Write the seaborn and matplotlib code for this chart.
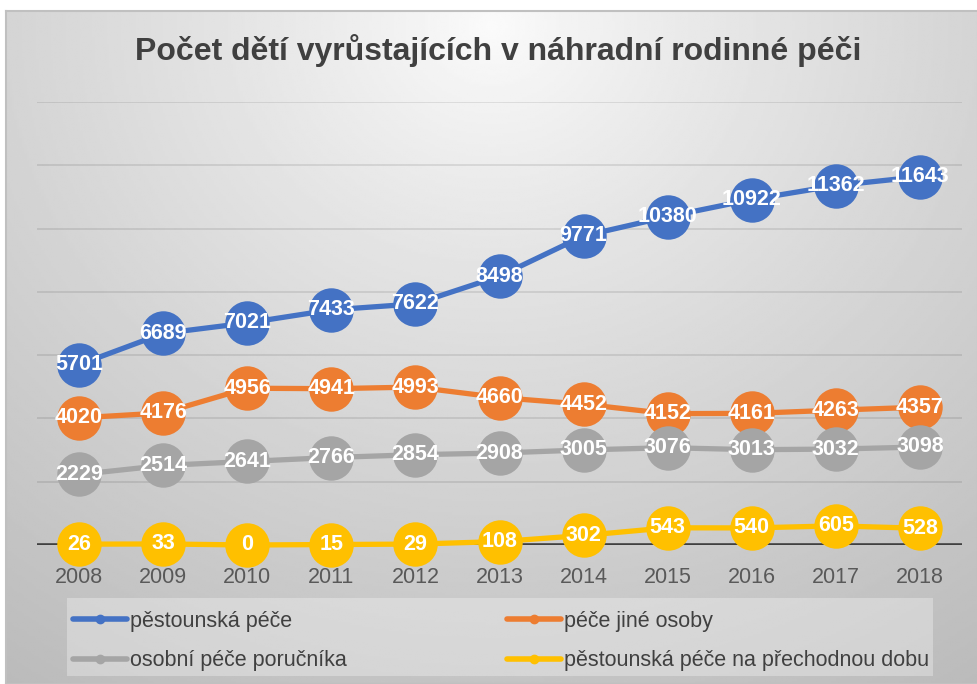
import numpy as np
import pandas as pd
import matplotlib.pyplot as plt
from matplotlib.lines import Line2D
from matplotlib.patches import Rectangle
import seaborn as sns

years = [2008, 2009, 2010, 2011, 2012, 2013, 2014, 2015, 2016, 2017, 2018]
pestounska = [5701, 6689, 7021, 7433, 7622, 8498, 9771, 10380, 10922, 11362, 11643]
jine_osoby = [4020, 4176, 4956, 4941, 4993, 4660, 4452, 4152, 4161, 4263, 4357]
porucnik = [2229, 2514, 2641, 2766, 2854, 2908, 3005, 3076, 3013, 3032, 3098]
prechodna = [26, 33, 0, 15, 29, 108, 302, 543, 540, 605, 528]

series_names = ["pěstounská péče", "péče jiné osoby",
                "osobní péče poručníka", "pěstounská péče na přechodnou dobu"]
colors = ["#4472C4", "#ED7D31", "#A5A5A5", "#FFC000"]

df = pd.DataFrame({
    "rok": years * 4,
    "pocet": pestounska + jine_osoby + porucnik + prechodna,
    "serie": sum([[n] * len(years) for n in series_names], []),
})

sns.set_theme(style="white")
plt.rcParams["font.family"] = ["Liberation Sans", "DejaVu Sans"]

W, H = 978, 684
fig = plt.figure(figsize=(W / 100, H / 100), dpi=100, facecolor="white")

# gradient background (light at top centre, darker towards corners)
bg = fig.add_axes([6 / W, 0, 972 / W, 673 / H], zorder=-10)
gx, gy = np.meshgrid(np.linspace(0, 1, 400), np.linspace(0, 1, 300))
d = np.sqrt(((gx - 0.5) * 1.3) ** 2 + (gy - 0.02) ** 2)
shade = np.clip(0.985 - 0.22 * d ** 0.85, 0, 1)
bg.imshow(shade, cmap="gray", vmin=0, vmax=1, aspect="auto", extent=[0, 1, 1, 0])
bg.set_xticks([])
bg.set_yticks([])
for s in bg.spines.values():
    s.set_color("#c0c0c0")
    s.set_linewidth(1.5)

ax = fig.add_axes([37 / W, 1 - 545 / H, 925 / W, (545 - 101.5) / H])
ax.patch.set_alpha(0)

for i, name in enumerate(series_names):
    sub = df[df["serie"] == name]
    sns.lineplot(data=sub, x="rok", y="pocet", ax=ax, color=colors[i],
                 linewidth=3.8, marker="o", markersize=32, markeredgewidth=0,
                 legend=False, zorder=3 + i, clip_on=False)

for i, name in enumerate(series_names):
    sub = df[df["serie"] == name]
    for x, y in zip(sub["rok"], sub["pocet"]):
        ax.text(x, y, str(y), ha="center", va="center", color="white",
                fontsize=15.5, fontweight="bold", zorder=10)

ax.set_xlim(2007.5, 2018.5)
ax.set_ylim(0, 14020)
ax.set_yticks(np.arange(0, 14001, 2000))
ax.yaxis.grid(True, color="black", alpha=0.11, linewidth=1.2)
ax.set_yticklabels([])
ax.tick_params(axis="y", length=0)
ax.set_xticks(years)
ax.set_xticklabels([str(y) for y in years])
ax.tick_params(axis="x", length=0, labelsize=15.5, labelcolor="#595959", pad=16)
ax.axhline(0, color="#404040", linewidth=2.6, zorder=2)
for s in ax.spines.values():
    s.set_visible(False)
ax.set_xlabel("")
ax.set_ylabel("")

fig.text(498 / W, 1 - 51 / H, "Počet dětí vyrůstajících v náhradní rodinné péči",
         ha="center", va="center", fontsize=23, fontweight="bold", color="#404040")

# legend: row-major order (matplotlib fills columns first)
order = [0, 2, 1, 3]
handles = [Line2D([0], [0], color=colors[k], linewidth=4, marker="o", markersize=6)
           for k in order]
labels = [series_names[k] for k in order]
fig.add_artist(Rectangle((67 / W, 1 - 676 / H), 866 / W, 78 / H,
                         transform=fig.transFigure, facecolor="white",
                         alpha=0.3, edgecolor="none", zorder=0))
leg = fig.legend(handles, labels, loc="upper left",
                 bbox_to_anchor=(73 / W, 1 - 611 / H), ncol=2, frameon=False,
                 fontsize=15.5, handlelength=2.5, handletextpad=0.15,
                 columnspacing=7.45, labelspacing=0.85, borderpad=0,
                 borderaxespad=0)
for t in leg.get_texts():
    t.set_color("#404040")

fig.savefig("out.png", dpi=100, facecolor="white")
